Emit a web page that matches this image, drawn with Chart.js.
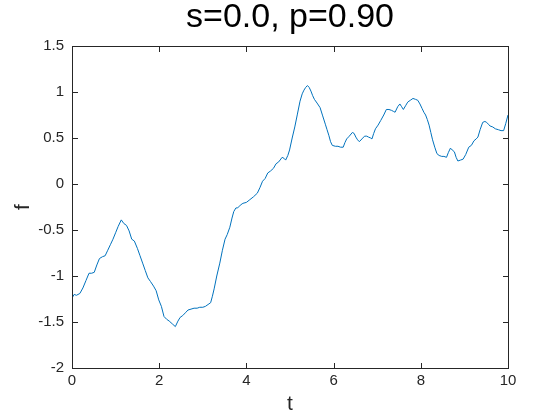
<!DOCTYPE html>
<html>
<head>
<meta charset="utf-8">
<script src="https://cdn.jsdelivr.net/npm/chart.js@4/dist/chart.umd.min.js"></script>
<style>
html,body{margin:0;padding:0;background:#fff;}
#wrap{width:560px;height:420px;}
</style>
</head>
<body>
<div id="wrap"><canvas id="c" width="560" height="420"></canvas></div>
<script>
const titleText = "s=0.0, p=0.90";
const xLabel = "t";
const yLabel = "f";
const xTickValues = [0, 2, 4, 6, 8, 10];
const xTickLabels = ["0", "2", "4", "6", "8", "10"];
const yTickValues = [-2, -1.5, -1, -0.5, 0, 0.5, 1, 1.5];
const yTickLabels = ["-2", "-1.5", "-1", "-0.5", "0", "0.5", "1", "1.5"];

const tVals = [0.00,0.05,0.10,0.18,0.25,0.32,0.39,0.45,0.51,0.57,0.63,0.70,0.76,0.82,0.88,0.94,1.00,1.06,1.13,1.19,1.25,1.31,1.37,1.43,1.50,1.56,1.62,1.68,1.74,1.80,1.87,1.93,1.99,2.05,2.11,2.17,2.23,2.30,2.37,2.43,2.48,2.54,2.60,2.66,2.73,2.80,2.87,2.93,3.00,3.06,3.12,3.18,3.22,3.26,3.32,3.39,3.45,3.51,3.56,3.62,3.67,3.71,3.76,3.80,3.86,3.92,4.00,4.08,4.16,4.25,4.31,4.37,4.43,4.49,4.55,4.62,4.68,4.74,4.82,4.86,4.90,4.95,4.99,5.05,5.11,5.17,5.23,5.28,5.32,5.36,5.40,5.44,5.48,5.52,5.56,5.62,5.69,5.75,5.81,5.85,5.89,5.93,5.97,6.04,6.10,6.16,6.22,6.26,6.30,6.36,6.43,6.47,6.51,6.55,6.59,6.65,6.71,6.76,6.80,6.85,6.88,6.92,6.96,7.02,7.08,7.15,7.21,7.27,7.33,7.37,7.41,7.47,7.52,7.56,7.60,7.65,7.70,7.76,7.82,7.88,7.93,7.98,8.03,8.07,8.11,8.15,8.19,8.23,8.27,8.32,8.37,8.42,8.48,8.53,8.59,8.63,8.68,8.72,8.77,8.81,8.85,8.91,8.97,9.03,9.10,9.16,9.22,9.27,9.31,9.36,9.42,9.47,9.51,9.55,9.59,9.65,9.71,9.78,9.84,9.90,9.95,10.00];
const fVals = [-1.24,-1.20,-1.21,-1.19,-1.13,-1.05,-0.97,-0.97,-0.96,-0.88,-0.81,-0.79,-0.78,-0.72,-0.66,-0.60,-0.53,-0.46,-0.39,-0.43,-0.45,-0.51,-0.60,-0.62,-0.70,-0.78,-0.86,-0.94,-1.02,-1.06,-1.11,-1.16,-1.26,-1.33,-1.44,-1.47,-1.49,-1.52,-1.55,-1.49,-1.45,-1.43,-1.40,-1.37,-1.36,-1.35,-1.35,-1.34,-1.34,-1.33,-1.31,-1.29,-1.22,-1.14,-1.00,-0.86,-0.72,-0.60,-0.55,-0.47,-0.37,-0.30,-0.26,-0.26,-0.23,-0.21,-0.20,-0.17,-0.14,-0.10,-0.04,0.03,0.06,0.12,0.14,0.17,0.22,0.24,0.29,0.28,0.26,0.31,0.37,0.50,0.62,0.76,0.90,0.98,1.02,1.05,1.07,1.05,1.01,0.96,0.92,0.88,0.83,0.74,0.65,0.59,0.53,0.46,0.42,0.41,0.41,0.40,0.40,0.45,0.49,0.52,0.56,0.55,0.51,0.48,0.46,0.49,0.52,0.52,0.51,0.50,0.49,0.55,0.60,0.64,0.69,0.75,0.81,0.81,0.80,0.79,0.78,0.84,0.87,0.84,0.81,0.85,0.89,0.91,0.93,0.92,0.91,0.87,0.82,0.78,0.75,0.70,0.64,0.56,0.48,0.40,0.33,0.31,0.30,0.30,0.29,0.34,0.39,0.37,0.35,0.29,0.25,0.26,0.27,0.32,0.40,0.42,0.47,0.49,0.51,0.59,0.67,0.68,0.67,0.65,0.63,0.62,0.60,0.59,0.58,0.58,0.66,0.75];

const FONT = '"Liberation Sans", Arial, Helvetica, sans-serif';
const AXC = '#262626';

const framePlugin = {
  id: 'frameTicks',
  afterDraw(chart) {
    const ctx = chart.ctx;
    const a = chart.chartArea;
    const sx = chart.scales.x, sy = chart.scales.y;
    const L = 5;
    const l = Math.round(a.left), r = Math.round(a.right);
    const t = Math.round(a.top), b = Math.round(a.bottom);
    ctx.save();
    ctx.fillStyle = AXC;
    ctx.fillRect(l, t, r - l + 1, 1);
    ctx.fillRect(l, b, r - l + 1, 1);
    ctx.fillRect(l, t, 1, b - t + 1);
    ctx.fillRect(r, t, 1, b - t + 1);
    xTickValues.forEach(v => {
      const px = Math.round(sx.getPixelForValue(v));
      ctx.fillRect(px, b - L, 1, L);
      ctx.fillRect(px, t + 1, 1, L);
    });
    yTickValues.forEach(v => {
      const py = Math.round(sy.getPixelForValue(v));
      ctx.fillRect(l + 1, py, L, 1);
      ctx.fillRect(r - L, py, L, 1);
    });
    ctx.restore();
  }
};

new Chart(document.getElementById('c'), {
  type: 'line',
  data: {
    datasets: [{
      data: tVals.map((t, i) => ({x: t, y: fVals[i]})),
      borderColor: '#0072BD',
      borderWidth: 1,
      pointRadius: 0,
      tension: 0,
      fill: false
    }]
  },
  options: {
    responsive: false,
    animation: false,
    devicePixelRatio: 1,
    layout: {padding: {left: 0, right: 52, top: 0, bottom: 0}},
    plugins: {
      legend: {display: false},
      tooltip: {enabled: false},
      title: {
        display: true,
        fullSize: false,
        text: titleText,
        color: '#000',
        font: {family: FONT, size: 34, weight: 'normal', lineHeight: 1},
        padding: {top: 1, bottom: 11}
      }
    },
    scales: {
      x: {
        type: 'linear',
        min: 0, max: 10,
        afterBuildTicks: s => { s.ticks = xTickValues.map(v => ({value: v})); },
        afterFit: s => { s.height = 52; },
        grid: {display: false, drawTicks: false},
        border: {display: false},
        ticks: {
          color: AXC, padding: 4, maxRotation: 0, autoSkip: false,
          font: {family: FONT, size: 15},
          callback: (v, i) => xTickLabels[i]
        },
        title: {
          display: true, text: xLabel, color: AXC,
          font: {family: FONT, size: 21, lineHeight: 1.2},
          padding: {top: 0, bottom: 3}
        }
      },
      y: {
        type: 'linear',
        min: -2, max: 1.5,
        afterBuildTicks: s => { s.ticks = yTickValues.map(v => ({value: v})); },
        afterFit: s => { s.width = 72; },
        grid: {display: false, drawTicks: false},
        border: {display: false},
        ticks: {
          color: AXC, padding: 8, autoSkip: false,
          font: {family: FONT, size: 15},
          callback: (v, i) => yTickLabels[i]
        },
        title: {
          display: true, text: yLabel, color: AXC,
          font: {family: FONT, size: 21, lineHeight: 1.2},
          padding: {top: 11, bottom: 0}
        }
      }
    }
  },
  plugins: [framePlugin]
});
</script>
</body>
</html>
